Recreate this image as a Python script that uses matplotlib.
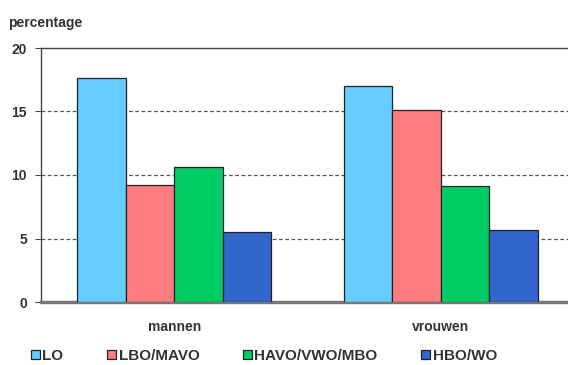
import matplotlib
matplotlib.use("Agg")
import matplotlib.pyplot as plt
import numpy as np
from matplotlib.patches import Patch

plt.rcParams["font.family"] = ["Liberation Sans", "DejaVu Sans"]

groups = ["mannen", "vrouwen"]
series = ["LO", "LBO/MAVO", "HAVO/VWO/MBO", "HBO/WO"]
colors = ["#66CCFF", "#FF7B82", "#00CC66", "#3366CC"]
values = {
    "LO": [17.6, 17.0],
    "LBO/MAVO": [9.2, 15.1],
    "HAVO/VWO/MBO": [10.6, 9.1],
    "HBO/WO": [5.5, 5.7],
}
yticks = [0, 5, 10, 15, 20]

fig = plt.figure(figsize=(5.68, 3.65), dpi=100)
ax = fig.add_axes([41 / 568, 1 - 302 / 365, 533 / 568, 254 / 365])

x = np.arange(len(groups))
width = 0.182
for i, name in enumerate(series):
    offset = (i - 1.5) * width
    ax.bar(x + offset, values[name], width, color=colors[i],
           edgecolor="#222222", linewidth=0.9, zorder=3)

ax.set_xlim(-0.5, 1.5)
ax.set_ylim(0, 20)
ax.set_yticks(yticks)
ax.set_yticklabels([str(t) for t in yticks], fontsize=10, fontweight="bold", color="#333333")
ax.set_xticks(x)
ax.set_xticklabels(groups, fontsize=10, fontweight="bold", color="#333333")
ax.tick_params(axis="x", length=0, pad=13)
ax.tick_params(axis="y", length=4, width=0.8, color="#444444", pad=6)

# dashed gridlines
for t in yticks[1:-1]:
    ax.axhline(t, color="#555555", linestyle=(0, (3, 2)), linewidth=0.9, zorder=1)

ax.spines["right"].set_visible(False)
ax.spines["top"].set_color("#444444")
ax.spines["top"].set_linewidth(1.0)
ax.spines["left"].set_color("#444444")
ax.spines["left"].set_linewidth(1.0)
ax.spines["bottom"].set_color("#777777")
ax.spines["bottom"].set_linewidth(2.5)

fig.text(8 / 568, 1 - 23 / 365, "percentage", fontsize=10, fontweight="bold",
         color="#333333", va="center", ha="left")

handles = [Patch(facecolor=c, edgecolor="#222222", linewidth=0.9) for c in colors]
fig.legend(handles, series, ncol=4, loc="center left",
           bbox_to_anchor=(31 / 568, 1 - 356 / 365), frameon=False,
           prop={"size": 11, "weight": "bold"}, handlelength=0.6, handleheight=0.6,
           handletextpad=0.15, columnspacing=2.85, borderaxespad=0, borderpad=0,
           labelcolor="#333333")

fig.savefig("out.png", dpi=100)
